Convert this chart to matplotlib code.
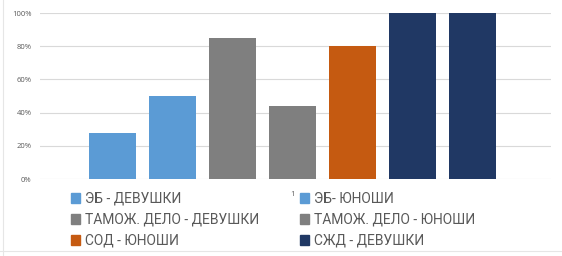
import matplotlib.pyplot as plt
from matplotlib.patches import Patch
from matplotlib.ticker import PercentFormatter

# ------- data -------
series = ['ЭБ - ДЕВУШКИ', 'ЭБ- ЮНОШИ', 'ТАМОЖ. ДЕЛО - ДЕВУШКИ', 'ТАМОЖ. ДЕЛО - ЮНОШИ',
          'СОД - ЮНОШИ', 'СЖД - ДЕВУШКИ', 'СЖД - ЮНОШИ']
values = [28, 50, 85, 44, 80, 100, 100]
colors = ['#5B9BD5', '#5B9BD5', '#7F7F7F', '#7F7F7F', '#C55A11', '#203864', '#203864']
category = ['1']
yticks = [0, 20, 40, 60, 80, 100]

plt.rcParams['font.family'] = ['Open Sans', 'DejaVu Sans']

fig = plt.figure(figsize=(5.62, 2.56), dpi=100)
ax = fig.add_axes([40/562, 1 - 179/256, 511/562, 166/256])

step = 60/511
width = 47/511
n = len(values)
for i, (v, c) in enumerate(zip(values, colors)):
    ax.bar(1 + (i - (n - 1)/2)*step, v, width=width, color=c, zorder=3)

ax.set_xlim(1 - 252.5/511, 1 + 258.5/511)
ax.set_ylim(0, 100)
ax.set_yticks(yticks)
ax.yaxis.set_major_formatter(PercentFormatter(decimals=0))
ax.set_xticks([1])
ax.set_xticklabels(category)
ax.tick_params(axis='both', length=0, labelsize=5.5, colors='#595959')
ax.tick_params(axis='x', pad=9)
ax.tick_params(axis='y', pad=6)
ax.grid(axis='y', color='#D9D9D9', linewidth=0.8, zorder=0)
for s in ax.spines.values():
    s.set_visible(False)

# legend, two columns filled row by row (7th series is cut off in the original)
h = [Patch(color=c) for c in colors[:6]]
kw = dict(frameon=False, prop={'family': ['Roboto', 'DejaVu Sans'], 'size': 10},
          handlelength=0.65, handleheight=0.65,
          handletextpad=0.35, labelspacing=0.5, labelcolor='#595959', borderpad=0)
fig.legend(h[0::2], series[0:6:2], loc='upper left',
           bbox_to_anchor=(64/562, 1 - 185/256), **kw)
fig.legend(h[1::2], series[1:6:2], loc='upper left',
           bbox_to_anchor=(293/562, 1 - 185/256), **kw)

# faint frame edges left over from the crop
fig.add_artist(plt.Line2D([3/562, 3/562], [0, 1], color='#E6E6E6', lw=0.8))
fig.add_artist(plt.Line2D([0, 1], [5/256, 5/256], color='#E6E6E6', lw=0.8))

fig.savefig('out.png', dpi=100)
